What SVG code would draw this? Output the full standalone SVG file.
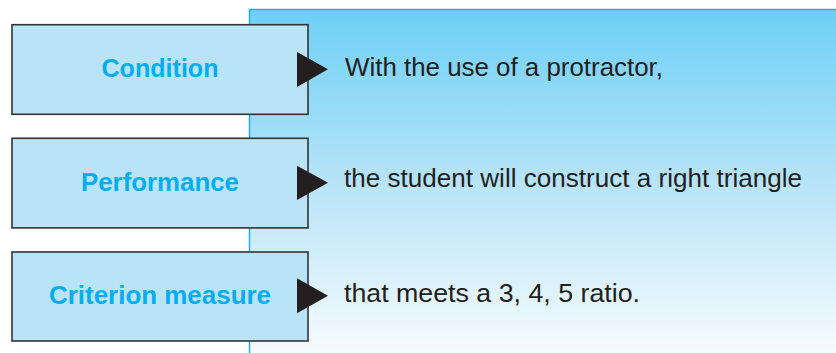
<svg xmlns="http://www.w3.org/2000/svg" width="836" height="353" viewBox="0 0 836 353">
<defs>
<linearGradient id="bg" x1="0" y1="0" x2="0" y2="1">
<stop offset="0" stop-color="#6dcff6"/>
<stop offset="0.5" stop-color="#b8e4f8"/>
<stop offset="1" stop-color="#f8fcfe"/>
</linearGradient>
<style>
.box{fill:#b9e4f8;stroke:#333;stroke-width:1.6}
.lbl{font-family:"Liberation Sans",Arial,sans-serif;font-weight:bold;font-size:26px;fill:#00aeef;text-anchor:middle}
.txt{font-family:"Liberation Sans",Arial,sans-serif;font-size:26px;fill:#231f20}
.arr{fill:#231f20}
</style>
</defs>
<rect x="249.5" y="9.5" width="590" height="350" fill="url(#bg)" stroke="#1ab0ec" stroke-width="1.5"/>
<g id="condition">
<rect class="box" x="12" y="24.7" width="296" height="89.6"/>
<text class="lbl" x="160" y="77" textLength="117" lengthAdjust="spacingAndGlyphs">Condition</text>
</g>
<g id="performance">
<rect class="box" x="12" y="138.3" width="296" height="89.6"/>
<text class="lbl" x="160" y="191" textLength="158" lengthAdjust="spacingAndGlyphs">Performance</text>
</g>
<g id="criterion">
<rect class="box" x="12" y="252" width="296" height="89"/>
<text class="lbl" x="160" y="304" textLength="222" lengthAdjust="spacingAndGlyphs">Criterion measure</text>
</g>
<g id="text1"><text class="txt" x="345" y="76" textLength="318" lengthAdjust="spacingAndGlyphs">With the use of a protractor,</text></g>
<g id="text2"><text class="txt" x="344" y="187.3" textLength="458" lengthAdjust="spacingAndGlyphs">the student will construct a right triangle</text></g>
<g id="text3"><text class="txt" x="344" y="301.7" textLength="296" lengthAdjust="spacingAndGlyphs">that meets a 3, 4, 5 ratio.</text></g>
<g id="connectors">
<polygon class="arr" points="297,52 328,69.3 297,87"/>
<polygon class="arr" points="297,165.7 328,182.8 297,200"/>
<polygon class="arr" points="297,278.3 328,295.8 297,313.3"/>
</g>
</svg>
